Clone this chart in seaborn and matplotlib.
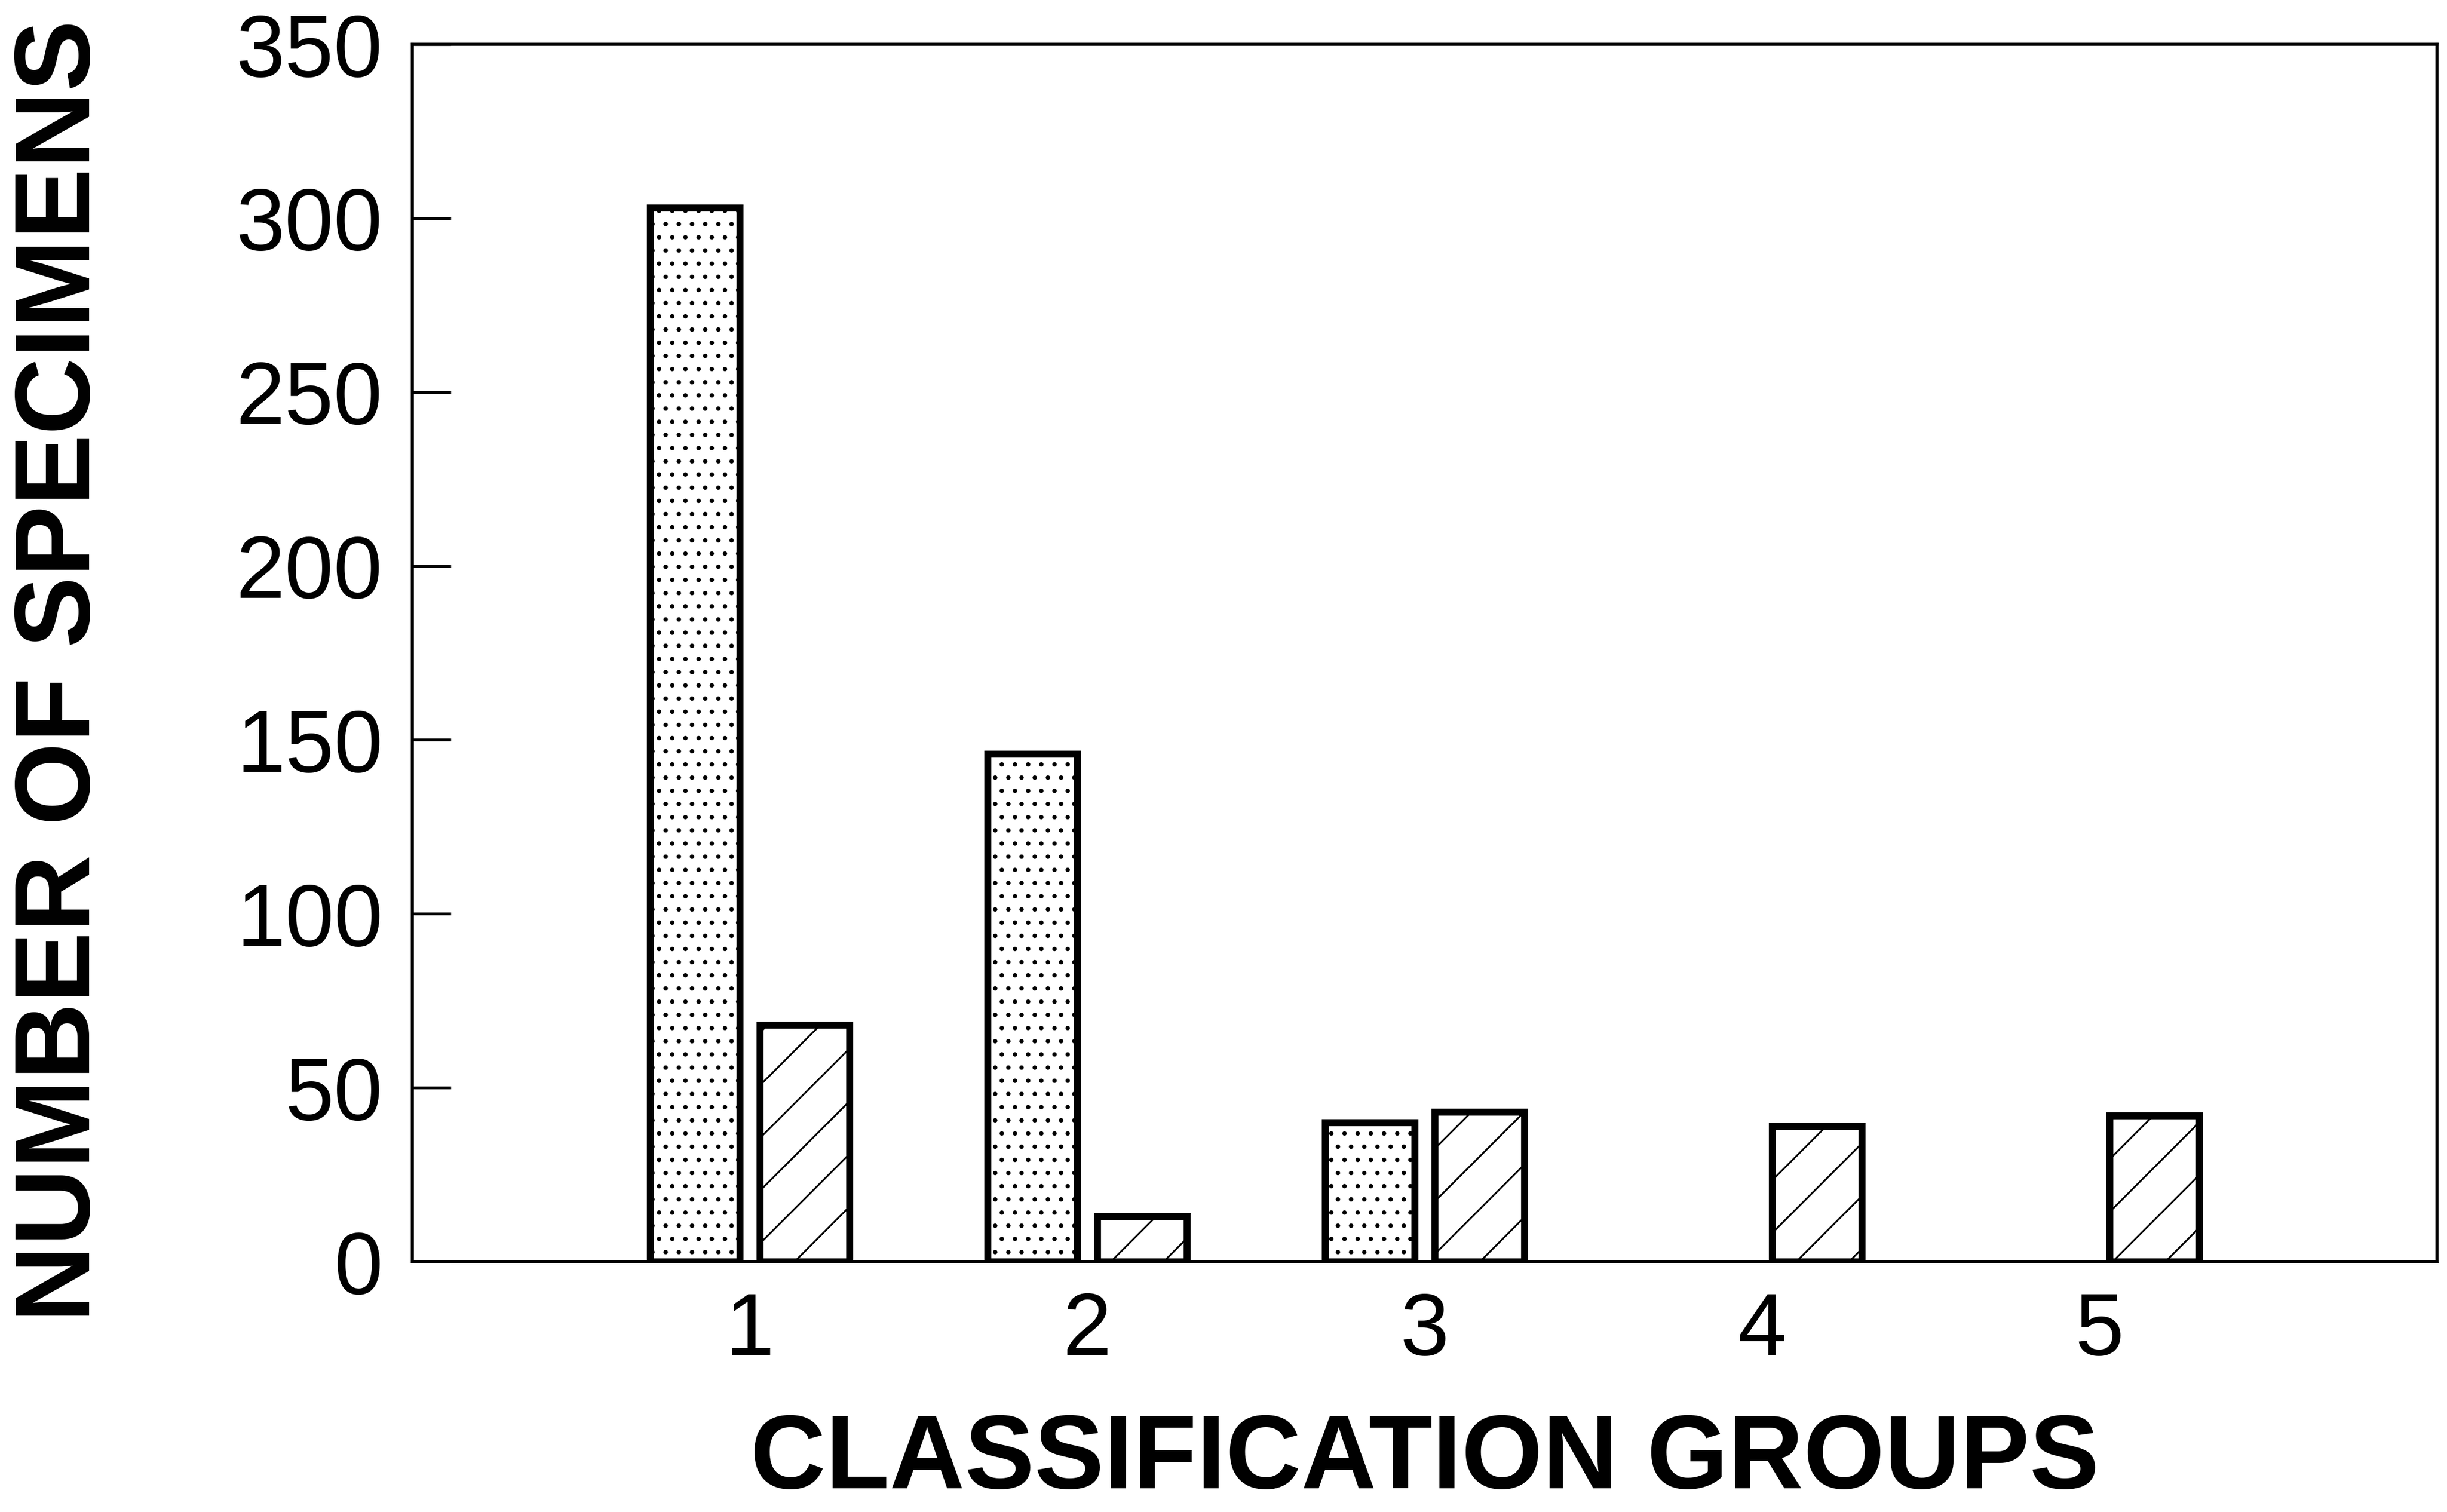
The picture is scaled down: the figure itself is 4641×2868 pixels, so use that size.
import seaborn as sns
import matplotlib.pyplot as plt
import pandas as pd

# data
groups = ["1", "2", "3", "4", "5"]
series = ["dotted", "hatched"]
dotted_counts = [303, 146, 40, None, None]
hatched_counts = [68, 13, 43, 39, 42]
y_ticks = [0, 50, 100, 150, 200, 250, 300, 350]

rows = []
for g, d, h in zip(groups, dotted_counts, hatched_counts):
    if d is not None:
        rows.append({"group": g, "series": "dotted", "count": d})
    if h is not None:
        rows.append({"group": g, "series": "hatched", "count": h})
df = pd.DataFrame(rows)

sns.set_theme(style="white")
plt.rcParams["font.family"] = ["Liberation Sans", "DejaVu Sans"]
plt.rcParams["hatch.linewidth"] = 0.8
plt.rcParams["hatch.color"] = "black"

fig = plt.figure(figsize=(15.47, 9.56), dpi=300)
ax = fig.add_axes([0.1685, 0.1656, 0.8274, 0.8051])

sns.barplot(data=df, x="group", y="count", hue="series",
            order=groups, hue_order=series,
            palette=["white", "white"], edgecolor="black", linewidth=3.2,
            width=0.65, gap=0.18, legend=False, ax=ax)

# dots for the first series, diagonal lines for the second
for cont, hatch in zip(ax.containers, ["..", "/"]):
    for bar in cont:
        bar.set_hatch(hatch)
        bar.set_edgecolor("black")

ax.set_xlim(-1, 5)
ax.set_ylim(0, 350)
ax.set_yticks(y_ticks)

for s in ax.spines.values():
    s.set_visible(True)
    s.set_color("black")
    s.set_linewidth(1.4)

ax.tick_params(axis="y", direction="in", length=17.5, width=1.3,
               pad=13.5, labelsize=40, colors="black", left=True)
ax.tick_params(axis="x", length=0, pad=13.5, labelsize=40, colors="black")

ax.set_xlabel("CLASSIFICATION GROUPS", fontsize=47.5, fontweight="bold",
              color="black")
ax.xaxis.label.set_va("center")
ax.xaxis.set_label_coords(0.5, -0.164)

ax.set_ylabel("NUMBER OF SPECIMENS", fontsize=48.5, fontweight="bold",
              color="black")
ax.yaxis.label.set_va("center")
ax.yaxis.set_label_coords(-0.173, 0.485)

fig.savefig("out.png", dpi=300, facecolor="white")
